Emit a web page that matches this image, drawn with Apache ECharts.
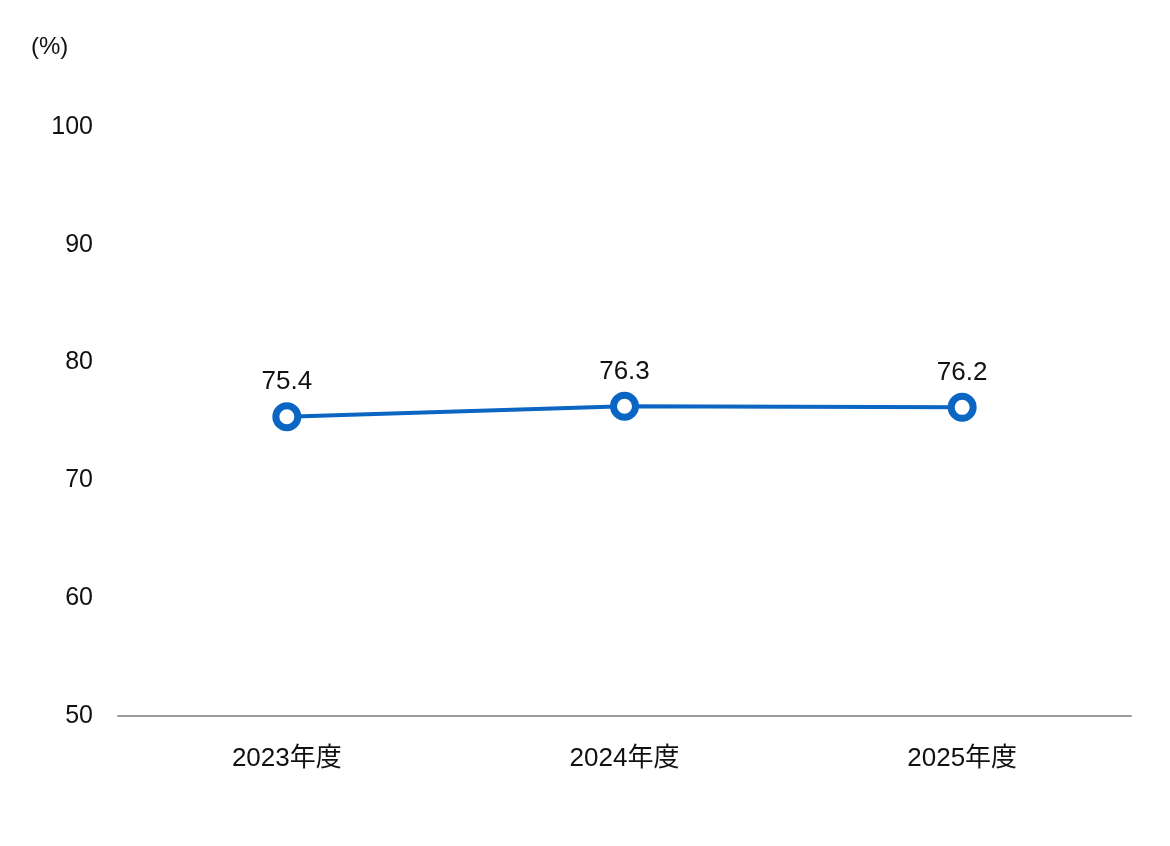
<!DOCTYPE html>
<html><head><meta charset="utf-8">
<script src="https://cdn.jsdelivr.net/npm/echarts@6/dist/echarts.min.js"></script>
<style>html,body{margin:0;padding:0;background:#fff}#c{width:1170px;height:846px}</style>
</head><body><div id="c"></div>
<script>
const categories = ['2023年度', '2024年度', '2025年度'];
const values = [75.4, 76.3, 76.2];
const unitLabel = '(%)';
const FONT = '"Liberation Sans", Arial, "Noto Sans CJK JP", sans-serif';
const chart = echarts.init(document.getElementById('c'));
chart.setOption({
  animation: false,
  backgroundColor: '#ffffff',
  title: { text: unitLabel, left: 26, top: 30, textStyle: { fontFamily: FONT, fontSize: 24, fontWeight: 'normal', color: '#111' } },
  grid: { left: 118, right: 39, top: 127, bottom: 130, containLabel: false },
  xAxis: {
    type: 'category', data: categories, boundaryGap: true,
    axisLine: { show: true, lineStyle: { color: '#9a9a9a', width: 2 } },
    axisTick: { show: false },
    axisLabel: { margin: 30, fontFamily: FONT, fontSize: 26, color: '#111' },
    splitLine: { show: false }
  },
  yAxis: {
    type: 'value', min: 50, max: 100, interval: 10,
    axisLine: { show: false }, axisTick: { show: false },
    axisLabel: { margin: 25, fontFamily: FONT, fontSize: 25, color: '#111', padding: [4, 0, 0, 0] },
    splitLine: { show: false }
  },
  series: [{
    type: 'line', data: values,
    symbol: 'circle', symbolSize: 22, showAllSymbol: true,
    lineStyle: { color: '#0a66c2', width: 4 },
    itemStyle: { color: '#ffffff', borderColor: '#0a66c2', borderWidth: 7 },
    label: { show: true, position: 'top', distance: 7, fontFamily: FONT, fontSize: 26, color: '#111',
      formatter: p => p.value.toFixed(1) }
  }]
});
</script></body></html>
